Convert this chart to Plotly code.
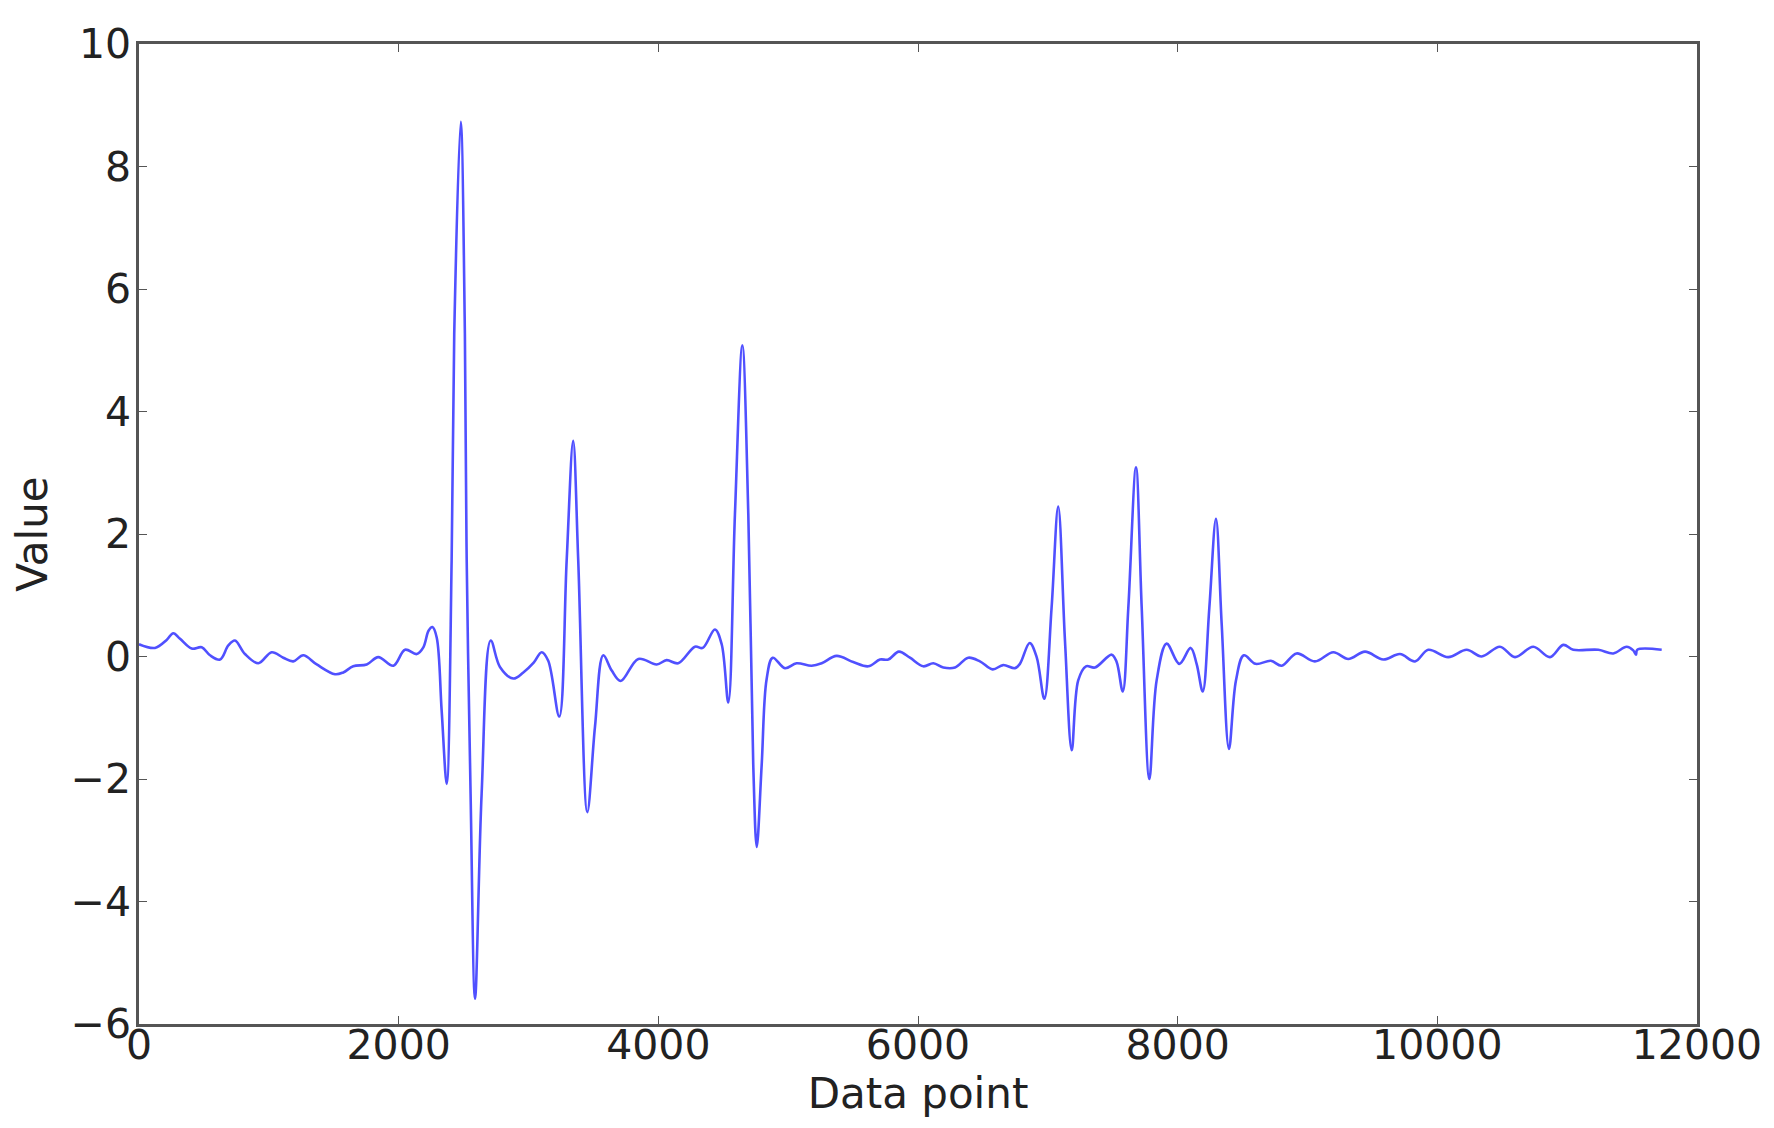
import plotly.graph_objects as go

# Data
data_point = [
    0, 123, 213, 264, 316, 406, 483, 547, 624, 688, 739, 816, 919, 1022, 1111, 1188,
    1265, 1369, 1510, 1573, 1650, 1754, 1843, 1959, 2049, 2139, 2190, 2230, 2260, 2293,
    2331, 2370, 2408, 2428, 2478, 2510, 2524, 2554, 2588, 2639, 2709, 2780, 2883, 2960,
    3040, 3101, 3152, 3237, 3294, 3344, 3383, 3453, 3512, 3576, 3641, 3710, 3846, 3987,
    4064, 4153, 4282, 4342, 4436, 4488, 4539, 4590, 4647, 4693, 4731, 4758, 4796, 4834,
    4881, 4975, 5065, 5181, 5258, 5373, 5501, 5617, 5707, 5771, 5853, 5938, 6041, 6118,
    6195, 6285, 6387, 6477, 6575, 6656, 6747, 6785, 6860, 6914, 6973, 7029, 7080, 7132,
    7184, 7234, 7294, 7363, 7492, 7530, 7577, 7620, 7679, 7723, 7782, 7838, 7915, 8013,
    8100, 8146, 8193, 8244, 8295, 8339, 8395, 8449, 8510, 8600, 8718, 8801, 8916, 9057,
    9199, 9314, 9443, 9584, 9712, 9828, 9930, 10084, 10226, 10341, 10482, 10598, 10739,
    10867, 10970, 11047, 11240, 11355, 11458, 11509, 11530, 11540, 11728,
]
value = [
    0.20, 0.14, 0.27, 0.38, 0.29, 0.13, 0.15, 0.02, -0.05, 0.18, 0.26, 0.04, -0.11, 0.07, -0.02, -0.08,
    0.02, -0.13, -0.29, -0.26, -0.16, -0.13, -0.01, -0.15, 0.11, 0.04, 0.15, 0.42, 0.48, 0.31,
    -0.88, -2.08, 1.57, 5.27, 8.73, 5.27, 1.57, -2.24, -5.59, -2.24, 0.26, -0.17, -0.36, -0.26,
    -0.10, 0.07, -0.07, -0.98, 1.57, 3.52, 1.57, -2.54, -1.15, 0.02, -0.23, -0.40, -0.04, -0.13,
    -0.06, -0.11, 0.16, 0.14, 0.44, 0.20, -0.75, 2.32, 5.08, 2.32, -1.76, -3.11, -1.77, -0.37,
    -0.02, -0.19, -0.11, -0.15, -0.11, 0.01, -0.09, -0.16, -0.05, -0.05, 0.08, -0.02, -0.16, -0.11,
    -0.18, -0.18, -0.02, -0.08, -0.21, -0.14, -0.19, -0.12, 0.22, -0.01, -0.69, 0.80, 2.45, 0.26,
    -1.53, -0.39, -0.16, -0.18, 0.03, -0.09, -0.57, 0.80, 3.09, 0.80, -2.00, -0.39, 0.21, -0.12,
    0.14, -0.12, -0.57, 0.80, 2.25, 0.53, -1.51, -0.39, 0.02, -0.12, -0.07, -0.15, 0.05, -0.08,
    0.07, -0.04, 0.08, -0.05, 0.04, -0.08, 0.11, -0.01, 0.11, 0.00, 0.16, -0.01, 0.16,
    -0.01, 0.19, 0.11, 0.11, 0.05, 0.16, 0.10, 0.03, 0.11, 0.11,
]

x_ticks = [0, 2000, 4000, 6000, 8000, 10000, 12000]
x_tick_labels = ["0", "2000", "4000", "6000", "8000", "10000", "12000"]
y_ticks = [-6, -4, -2, 0, 2, 4, 6, 8, 10]
y_tick_labels = ["\u22126", "\u22124", "\u22122", "0", "2", "4", "6", "8", "10"]

FONT = "DejaVu Sans"
AXIS_COLOR = "#555555"
TEXT_COLOR = "#222222"

fig = go.Figure()
fig.add_trace(go.Scatter(
    x=data_point, y=value, mode="lines",
    line=dict(color="rgb(80,80,255)", width=2.6, shape="spline", smoothing=1.0),
    showlegend=False, hoverinfo="skip",
))

axis_common = dict(
    showline=True, linecolor=AXIS_COLOR, linewidth=2.5, mirror="allticks",
    ticks="inside", ticklen=8, tickwidth=1, tickcolor=AXIS_COLOR,
    showgrid=False, zeroline=False,
    tickfont=dict(family=FONT, size=41, color=TEXT_COLOR),
)

fig.update_xaxes(
    range=[0, 12000], tickvals=x_ticks, ticktext=x_tick_labels, ticklabelstandoff=-17,
    **axis_common,
    title=dict(text="Data point", font=dict(family=FONT, size=42, color=TEXT_COLOR), standoff=0),
)
fig.update_yaxes(
    range=[-6, 10], tickvals=y_ticks, ticktext=y_tick_labels, ticklabelstandoff=-3,
    **axis_common,
    title=dict(text="Value", font=dict(family=FONT, size=42, color=TEXT_COLOR), standoff=16),
)

# The page body keeps the browser's default 8px margin, so the figure is sized to fit
fig.update_layout(
    width=1758, height=1112,
    margin=dict(l=131, r=69, t=36, b=96, autoexpand=False),
    paper_bgcolor="white", plot_bgcolor="white",
    font=dict(family=FONT),
)

fig.write_html("out.html")
